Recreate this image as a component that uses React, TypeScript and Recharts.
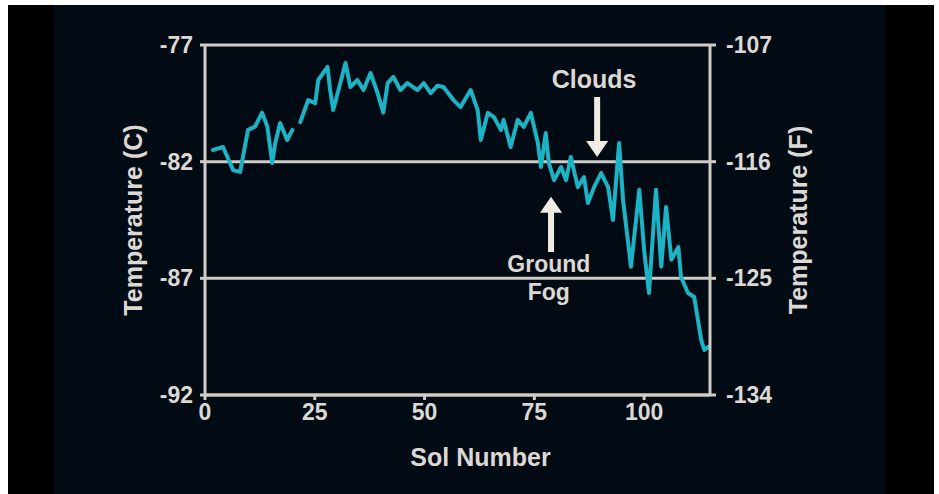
import React from "react";
import {
  LineChart,
  Line,
  XAxis,
  YAxis,
  CartesianGrid,
  ReferenceLine,
  ReferenceDot,
} from "recharts";

// Daily temperature by sol (°C); null marks the missing sol in the record
const sols = [
  1.8, 4.1, 6.4, 8.0, 9.8, 11.4, 13.0, 14.2, 15.3, 16.0, 17.1, 18.7, 19.9,
  20.8,
  21.7, 23.5, 25.1, 25.8, 27.9, 28.5, 29.2, 30.4, 32.0, 33.1, 34.7, 36.1,
  37.7, 39.3, 40.6, 41.6, 42.9, 44.5, 46.1, 48.4, 49.8, 51.4, 52.9, 54.3,
  56.6, 58.2, 60.5, 62.1, 62.8, 64.4, 65.8, 67.4, 68.0, 69.6, 71.2, 72.6,
  74.2, 75.8, 76.5, 77.6, 78.3, 79.5, 81.1, 82.2, 83.3, 84.9, 86.3, 87.2,
  88.6, 90.2, 91.8, 92.9, 94.3, 95.2, 97.0, 98.9, 100.0, 101.1, 102.7, 103.9,
  105.0, 106.2, 107.8, 108.4, 110.0, 111.4, 113.0, 113.7, 114.6,
];
const tempsC: (number | null)[] = [
  -81.5, -81.37, -82.36, -82.44, -80.64, -80.5, -79.9, -80.5, -82.06, -81.2,
  -80.34, -81.07, -80.64,
  null,
  -80.3, -79.36, -79.49, -78.5, -77.94, -78.93, -79.79, -78.93, -77.77, -78.8,
  -78.5, -78.93, -78.2, -79.06, -79.9, -78.63, -78.37, -78.93, -78.63, -78.93,
  -78.63, -79.06, -78.75, -78.8, -79.36, -79.66, -78.93, -79.79, -81.07,
  -79.91, -80.09, -80.64, -80.21, -81.37, -80.21, -80.51, -79.91, -81.2,
  -82.23, -80.77, -82.06, -82.79, -82.23, -82.79, -81.8, -83.09, -82.66,
  -83.77, -83.09, -82.49, -83.09, -84.5, -81.2, -83.64, -86.5, -83.2, -85.79,
  -87.63, -83.2, -86.5, -83.94, -86.2, -85.66, -86.94, -87.63, -87.8, -89.64,
  -90.07, -89.94,
];

const xTicks = [0, 25, 50, 75, 100];
const celsiusTicks = [-92, -87, -82, -77];
const fahrenheitTicks = [-134, -125, -116, -107];

// Annotation arrows: [sol, start °C, tip °C]
const cloudsArrow = [89.3, -79.23, -81.8];
const fogArrow = [78.8, -85.87, -83.5];
// Annotation labels: [text, sol, °C]
const notes: [string, number, number][] = [
  ["Clouds", 88.6, -78.46],
  ["Ground", 78.3, -86.36],
  ["Fog", 78.3, -87.56],
];

const data = sols.map((sol, i) => ({ sol, temp: tempsC[i] }));

const FONT = '"Liberation Sans", Arial, Helvetica, sans-serif';
const TEXT = "#dcd8d4";
const AXIS = "#cfcbc6";
const CYAN = "#1cb3c5";
const NAVY = "#020a13";

const tickStyle = { fill: TEXT, fontSize: 23, fontWeight: 700, fontFamily: FONT };

function Arrow(props: any) {
  const { x1, y1, x2, y2 } = props;
  const dir = y2 > y1 ? 1 : -1;
  const hb = y2 - dir * 16;
  const pts = [
    [x1 - 3, y1],
    [x1 + 3, y1],
    [x1 + 3, hb],
    [x1 + 11, hb],
    [x2, y2],
    [x1 - 11, hb],
    [x1 - 3, hb],
  ]
    .map((p) => p.join(","))
    .join(" ");
  return <polygon points={pts} fill="#f2ebe4" />;
}

function SideTitle(props: any, text: string, x: number) {
  const vb = props.viewBox || {};
  const cy = vb.y + vb.height / 2;
  return (
    <text
      x={x}
      y={cy}
      transform={`rotate(-90, ${x}, ${cy})`}
      textAnchor="middle"
      dominantBaseline="central"
      fill={TEXT}
      fontSize={25}
      fontWeight={700}
      fontFamily={FONT}
    >
      {text}
    </text>
  );
}

export default function App() {
  return (
    <div
      style={{
        position: "absolute",
        left: 0,
        top: 0,
        width: 939,
        height: 494,
        background: "#ffffff",
        overflow: "hidden",
      }}
    >
      <div
        style={{
          position: "absolute",
          left: 8,
          top: 5,
          width: 926,
          height: 489,
          background: "#000000",
        }}
      />
      <div
        style={{
          position: "absolute",
          left: 54,
          top: 5,
          width: 832,
          height: 489,
          background: NAVY,
        }}
      />
      <div style={{ position: "absolute", left: 0, top: 0 }}>
        <LineChart
          width={939}
          height={494}
          data={data}
          margin={{ top: 45, right: 129, bottom: 59, left: 115 }}
        >
          <CartesianGrid
            yAxisId="left"
            vertical={false}
            stroke={AXIS}
            strokeWidth={3}
          />
          <XAxis
            dataKey="sol"
            type="number"
            domain={[0, 115]}
            ticks={xTicks}
            allowDataOverflow
            height={40}
            tick={tickStyle}
            tickSize={5}
            tickMargin={4}
            tickLine={{ stroke: AXIS, strokeWidth: 3 }}
            axisLine={{ stroke: AXIS, strokeWidth: 3 }}
            label={{
              content: (p: any) => {
                const vb = p.viewBox || {};
                return (
                  <text
                    x={vb.x + vb.width / 2 + 23}
                    y={vb.y + vb.height + 22}
                    textAnchor="middle"
                    dominantBaseline="central"
                    fill={TEXT}
                    fontSize={25}
                    fontWeight={700}
                    fontFamily={FONT}
                  >
                    Sol Number
                  </text>
                );
              },
            }}
          />
          <YAxis
            yAxisId="left"
            domain={[-92, -77]}
            ticks={celsiusTicks}
            allowDataOverflow
            width={90}
            tick={tickStyle}
            tickSize={5}
            tickMargin={7}
            tickLine={{ stroke: AXIS, strokeWidth: 3 }}
            axisLine={{ stroke: AXIS, strokeWidth: 3 }}
            label={{ content: (p: any) => SideTitle(p, "Temperature (C)", 133) }}
          />
          <YAxis
            yAxisId="right"
            orientation="right"
            domain={[-134, -107]}
            ticks={fahrenheitTicks}
            allowDataOverflow
            width={100}
            tick={tickStyle}
            tickSize={6}
            tickMargin={10}
            tickLine={{ stroke: AXIS, strokeWidth: 3 }}
            axisLine={{ stroke: AXIS, strokeWidth: 3 }}
            label={{ content: (p: any) => SideTitle(p, "Temperature (F)", 798) }}
          />
          <Line
            yAxisId="left"
            dataKey="temp"
            type="linear"
            stroke={CYAN}
            strokeWidth={4}
            strokeLinejoin="round"
            strokeLinecap="round"
            dot={false}
            connectNulls={false}
            isAnimationActive={false}
          />
          <ReferenceLine
            yAxisId="left"
            segment={[
              { x: cloudsArrow[0], y: cloudsArrow[1] },
              { x: cloudsArrow[0], y: cloudsArrow[2] },
            ]}
            shape={Arrow}
          />
          <ReferenceLine
            yAxisId="left"
            segment={[
              { x: fogArrow[0], y: fogArrow[1] },
              { x: fogArrow[0], y: fogArrow[2] },
            ]}
            shape={Arrow}
          />
          {notes.map(([text, sol, t]) => (
            <ReferenceDot
              key={text}
              yAxisId="left"
              x={sol}
              y={t}
              r={0}
              fill="none"
              stroke="none"
              label={{
                value: text,
                position: "center",
                fill: TEXT,
                fontSize: text === "Clouds" ? 25 : 23,
                fontWeight: 700,
                fontFamily: FONT,
              }}
            />
          ))}
        </LineChart>
      </div>
    </div>
  );
}
